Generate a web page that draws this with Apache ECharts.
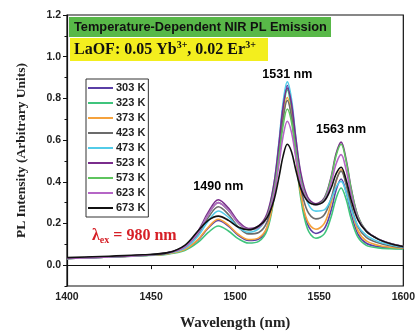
<!DOCTYPE html>
<html><head><meta charset="utf-8">
<script src="https://cdn.jsdelivr.net/npm/echarts@6/dist/echarts.min.js"></script>
<style>html,body{margin:0;padding:0;background:#fff}#c{width:418px;height:336px}</style>
</head><body><div id="c"></div>
<script>
const wavelengths = [1400,1425,1445,1460,1470,1478,1484,1490,1496,1502,1508,1514,1519,1523,1526,1528.5,1531,1533.5,1536,1539,1543,1548,1553,1557,1560,1563,1566,1569,1573,1578,1585,1592,1600];
const temps = ['303 K','323 K','373 K','423 K','473 K','523 K','573 K','623 K','673 K'];
const k303 = [.032,.039,.046,.055,.075,.121,.178,.214,.187,.142,.118,.125,.180,.333,.551,.758,.862,.762,.558,.344,.197,.152,.175,.261,.359,.413,.352,.247,.149,.105,.089,.083,.080];
const k323 = [.032,.039,.045,.053,.070,.110,.157,.188,.164,.126,.106,.114,.167,.317,.533,.739,.841,.740,.536,.322,.175,.129,.150,.230,.320,.370,.316,.221,.134,.095,.083,.079,.078];
const k373 = [.032,.039,.046,.055,.075,.124,.182,.220,.192,.147,.123,.131,.183,.323,.521,.709,.804,.715,.533,.342,.211,.172,.200,.295,.401,.459,.391,.275,.166,.116,.095,.086,.081];
const k423 = [.032,.039,.047,.059,.085,.150,.228,.280,.243,.182,.150,.157,.209,.342,.526,.701,.790,.712,.548,.376,.259,.222,.242,.319,.406,.451,.388,.284,.185,.133,.107,.093,.084];
const k473 = [.032,.039,.046,.057,.081,.140,.212,.260,.230,.180,.158,.175,.237,.385,.588,.780,.879,.796,.618,.431,.302,.259,.265,.315,.374,.402,.350,.268,.188,.143,.114,.098,.086];
const k523 = [.033,.040,.048,.061,.090,.164,.254,.314,.274,.208,.176,.189,.248,.387,.578,.757,.850,.775,.613,.444,.328,.294,.323,.421,.534,.590,.506,.368,.236,.165,.126,.105,.090];
const k573 = [.032,.040,.047,.059,.088,.158,.243,.300,.263,.200,.170,.182,.234,.354,.516,.669,.749,.688,.553,.410,.314,.288,.317,.415,.525,.580,.498,.363,.233,.164,.125,.104,.090];
const k623 = [.032,.039,.047,.059,.087,.157,.243,.300,.263,.201,.171,.182,.230,.338,.482,.618,.690,.637,.520,.396,.312,.289,.312,.393,.485,.530,.457,.339,.225,.163,.125,.104,.089];
const k673 = [.036,.043,.050,.060,.095,.165,.215,.235,.215,.182,.170,.188,.228,.310,.420,.523,.580,.544,.459,.369,.308,.291,.308,.369,.438,.470,.409,.312,.217,.162,.125,.104,.089];
const seriesValues = [k303,k323,k373,k423,k473,k523,k573,k623,k673];
const colors = ['#5a3fa6','#3fc47c','#f5a23c','#6b6b6b','#52cbe8','#7a2c8c','#5ec45e','#b565c6','#111111'];
const yMajorTicks = [0,0.2,0.4,0.6,0.8,1.0,1.2];
const yMinorTicks = [-0.1,0.1,0.3,0.5,0.7,0.9,1.1];
const peakLabels = [['1531 nm',1531,0.915],['1563 nm',1563,0.65],['1490 nm',1490,0.375]];

const chart = echarts.init(document.getElementById('c'), null, {renderer:'canvas'});
const sans = 'Liberation Sans, Arial, sans-serif';
const serif = 'Liberation Serif, Times New Roman, serif';
const series = temps.map((t,i)=>({
  name:t, type:'line', smooth:0.35, showSymbol:false, xAxisIndex:0, yAxisIndex:0,
  lineStyle:{width:1.6,color:colors[i]}, itemStyle:{color:colors[i]},
  data: wavelengths.map((w,j)=>[w,seriesValues[i][j]]), z:2+i
}));
series.push({
  type:'scatter', symbolSize:1, silent:true, xAxisIndex:0, yAxisIndex:0, z:20,
  itemStyle:{color:'rgba(0,0,0,0)',opacity:1},
  data: peakLabels.map(p=>({value:[p[1],p[2]], label:{show:true,formatter:p[0],position:'inside'}})),
  label:{color:'#000',opacity:1,fontFamily:sans,fontWeight:'bold',fontSize:12.5}
});
chart.setOption({
  animation:false,
  grid:{left:67,right:11,top:15,bottom:48,show:true,borderColor:'#111',borderWidth:1.2,backgroundColor:'transparent'},
  xAxis:{type:'value',min:1400,max:1600,interval:50,
    name:'Wavelength (nm)',nameLocation:'middle',nameGap:30,
    nameTextStyle:{fontFamily:serif,fontWeight:'bold',fontSize:15,color:'#222'},
    axisLine:{lineStyle:{color:'#111',width:1.2}},
    axisTick:{inside:false,length:4,lineStyle:{color:'#111'}},
    minorTick:{show:true,splitNumber:2,length:3,lineStyle:{color:'#111'}},
    splitLine:{show:false},
    axisLabel:{formatter:v=>String(v),fontFamily:sans,fontWeight:'bold',fontSize:10.5,color:'#222',margin:6}},
  yAxis:[{type:'value',min:-0.1,max:1.2,
    name:'PL Intensity (Arbitrary Units)',nameLocation:'middle',nameGap:38,
    nameTextStyle:{fontFamily:serif,fontWeight:'bold',fontSize:13.5,color:'#222'},
    axisLine:{show:true,lineStyle:{color:'#111',width:1.2}},
    axisTick:{show:true,length:4,customValues:yMajorTicks,lineStyle:{color:'#111'}},
    splitLine:{show:false},
    axisLabel:{customValues:yMajorTicks,formatter:v=>v.toFixed(1),fontFamily:sans,fontWeight:'bold',fontSize:10.5,color:'#222',margin:6}},
   {type:'value',min:-0.1,max:1.2,position:'left',
    axisLine:{show:false},
    axisTick:{show:true,length:2.5,customValues:yMinorTicks,lineStyle:{color:'#111'}},
    splitLine:{show:false},axisLabel:{show:false}}],
  legend:{orient:'vertical',left:86,top:79,icon:'rect',itemWidth:25,itemHeight:2,itemGap:3,
    data:temps,backgroundColor:'#fff',borderColor:'#333',borderWidth:1,padding:[3,3,3,2],
    textStyle:{fontFamily:sans,fontWeight:'bold',fontSize:11,color:'#222',lineHeight:12,padding:[0,0,0,-2]}},
  graphic:[
    {type:'rect',shape:{x:69,y:17,width:262,height:20},style:{fill:'#58b848'},z:10},
    {type:'text',x:74,y:27,style:{text:'Temperature-Dependent NIR PL Emission',fill:'#111',font:'bold 12.8px '+sans,verticalAlign:'middle'},z:11},
    {type:'rect',shape:{x:70,y:38,width:198,height:23},style:{fill:'#f3ee1e'},z:10},
    {type:'text',x:74,y:50,style:{text:'{a|LaOF: 0.05 Yb}{s|3+}{a|, 0.02 Er}{s|3+}',verticalAlign:'middle',
      rich:{a:{font:'bold 16px '+serif,fill:'#111'},s:{font:'bold 10px '+serif,fill:'#111',padding:[0,0,9,0]}}},z:11},
    {type:'text',x:92,y:236,style:{text:'{a|λ}{s|ex}{a| = 980 nm}',verticalAlign:'middle',
      rich:{a:{font:'bold 16px '+serif,fill:'#d61f26'},s:{font:'bold 10px '+serif,fill:'#d61f26',padding:[8,0,0,0]}}},z:11}
  ],
  series:series
});
</script></body></html>
